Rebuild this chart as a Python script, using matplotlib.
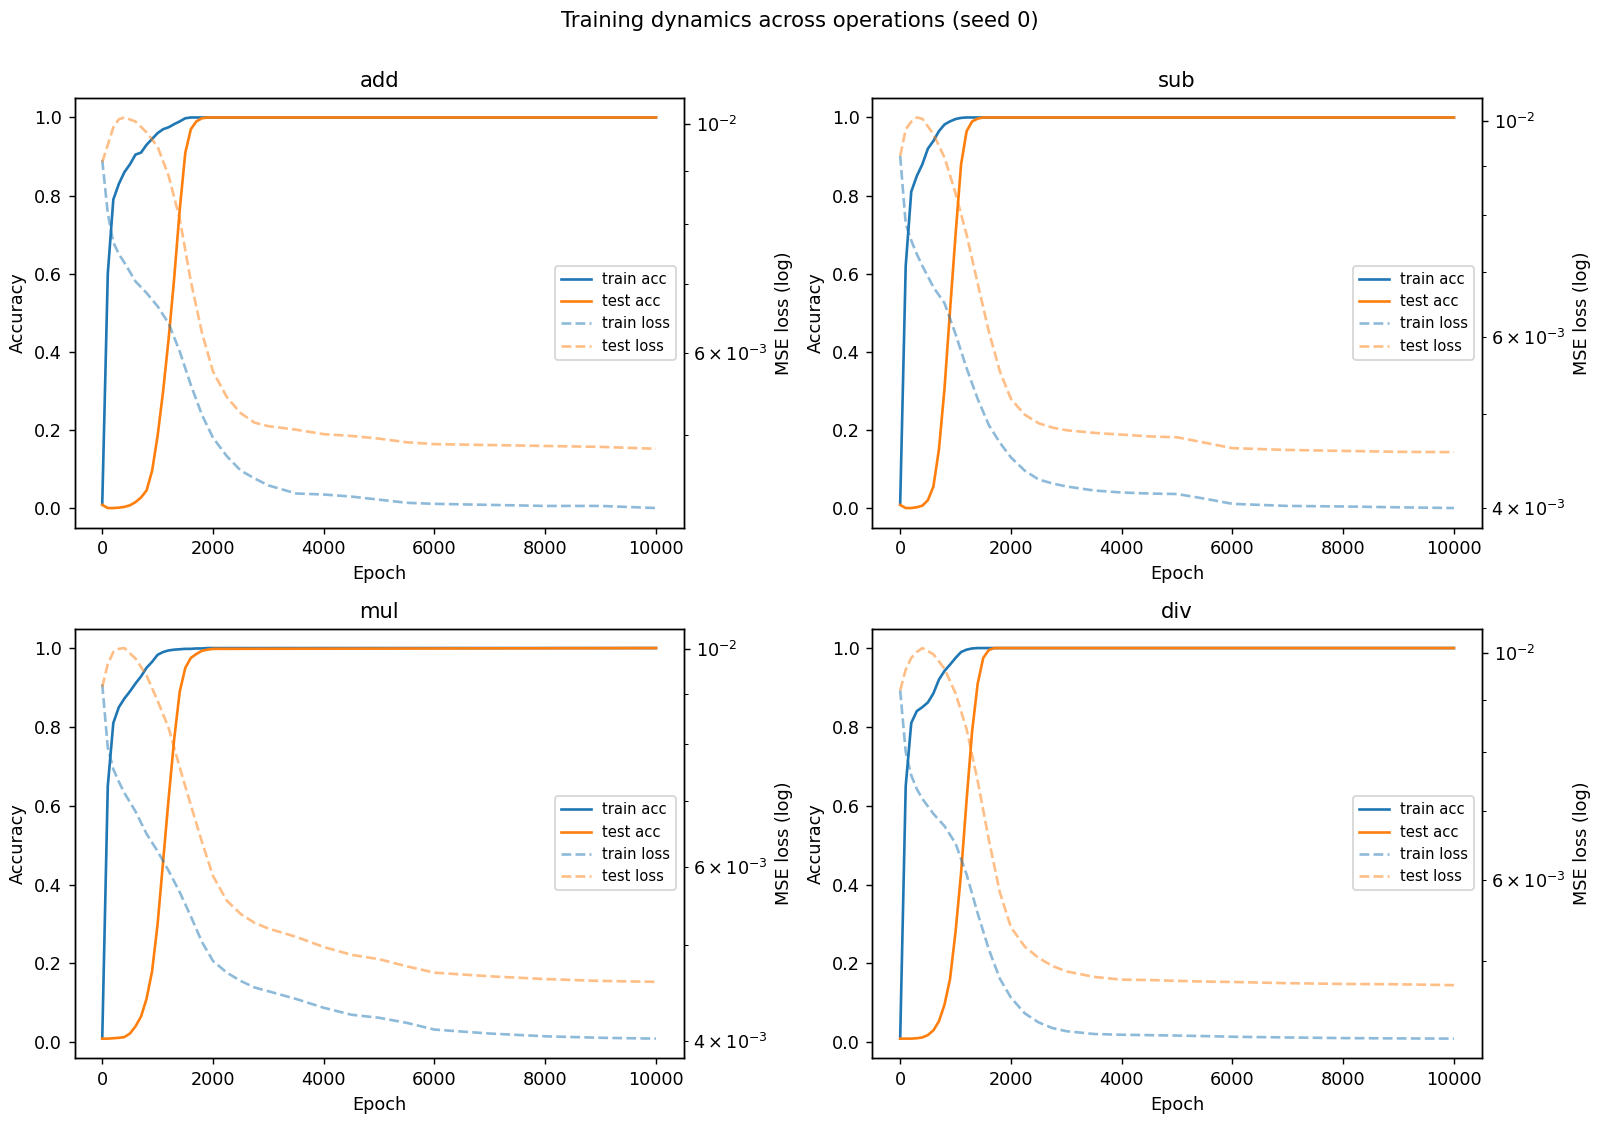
import matplotlib
matplotlib.use("Agg")
import matplotlib.pyplot as plt

ops = ["add", "sub", "mul", "div"]

acc_epochs = [0, 100, 200, 300, 400, 500, 600, 700, 800, 900, 1000, 1100, 1200,
              1300, 1400, 1500, 1600, 1700, 1800, 1900, 2000, 10000]
loss_epochs = [0, 100, 200, 300, 400, 600, 800, 1000, 1200, 1400, 1600, 1800, 2000,
               2250, 2500, 2750, 3000, 3500, 4000, 4500, 5000, 5500, 6000, 7000,
               8000, 9000, 10000]

add_train_acc = [0.01, 0.60, 0.79, 0.83, 0.86, 0.88, 0.905, 0.91, 0.93, 0.945, 0.96,
                 0.97, 0.975, 0.983, 0.99, 0.998, 1.0, 1.0, 1.0, 1.0, 1.0, 1.0]
add_test_acc = [0.008, 0.0, 0.0, 0.001, 0.003, 0.007, 0.015, 0.027, 0.045, 0.095, 0.185,
                0.30, 0.435, 0.59, 0.765, 0.91, 0.97, 0.99, 0.998, 1.0, 1.0, 1.0]
add_train_loss = [0.00922, 0.00819, 0.00768, 0.00748, 0.00734, 0.00704, 0.00686, 0.00666,
                  0.00641, 0.00602, 0.00559, 0.00523, 0.00497, 0.00477, 0.00462, 0.00454,
                  0.00447, 0.00439, 0.00438, 0.00436, 0.00433, 0.00430, 0.00429, 0.00428,
                  0.00427, 0.00427, 0.00425]
add_test_loss = [0.00918, 0.00954, 0.00992, 0.01010, 0.01014, 0.01005, 0.00981, 0.00950,
                 0.00890, 0.00809, 0.00704, 0.00628, 0.00576, 0.00544, 0.00525, 0.00514,
                 0.00510, 0.00506, 0.00501, 0.00499, 0.00496, 0.00492, 0.00490, 0.00489,
                 0.00488, 0.00487, 0.00485]

sub_train_acc = [0.01, 0.62, 0.81, 0.85, 0.88, 0.92, 0.94, 0.965, 0.982, 0.99, 0.996,
                 0.999, 1.0, 1.0, 1.0, 1.0, 1.0, 1.0, 1.0, 1.0, 1.0, 1.0]
sub_test_acc = [0.008, 0.0, 0.0, 0.002, 0.006, 0.02, 0.055, 0.15, 0.305, 0.505, 0.70,
                0.88, 0.965, 0.99, 0.997, 1.0, 1.0, 1.0, 1.0, 1.0, 1.0, 1.0]
sub_train_loss = [0.00921, 0.00784, 0.00754, 0.00730, 0.00710, 0.00675, 0.00650, 0.00604,
                  0.00557, 0.00518, 0.00487, 0.00467, 0.00451, 0.00437, 0.00428, 0.00424,
                  0.00421, 0.00417, 0.00415, 0.00414, 0.004135, 0.00409, 0.00404, 0.00402,
                  0.004015, 0.004007, 0.00400]
sub_test_loss = [0.00921, 0.00981, 0.00999, 0.01009, 0.01006, 0.00970, 0.00918, 0.00843,
                 0.00764, 0.00681, 0.00608, 0.00553, 0.00518, 0.00499, 0.00489, 0.00484,
                 0.00481, 0.00478, 0.00476, 0.00474, 0.00473, 0.00467, 0.00461, 0.00459,
                 0.00458, 0.00457, 0.004566]

mul_train_acc = [0.009, 0.65, 0.81, 0.85, 0.872, 0.89, 0.91, 0.928, 0.95, 0.965, 0.983,
                 0.99, 0.994, 0.996, 0.997, 0.998, 0.998, 0.999, 0.999, 1.0, 1.0, 1.0]
mul_test_acc = [0.009, 0.009, 0.01, 0.011, 0.013, 0.022, 0.04, 0.065, 0.11, 0.18, 0.30,
                0.46, 0.62, 0.77, 0.89, 0.95, 0.975, 0.985, 0.993, 0.996, 0.998, 1.0]
mul_train_loss = [0.00921, 0.00794, 0.00755, 0.00733, 0.00714, 0.00684, 0.00649, 0.00623,
                  0.00595, 0.00566, 0.00535, 0.00504, 0.00482, 0.00469, 0.00460, 0.00453,
                  0.00449, 0.00441, 0.00432, 0.00425, 0.00422, 0.00417, 0.004105, 0.004067,
                  0.004041, 0.004027, 0.004019]
mul_test_loss = [0.00915, 0.00966, 0.00993, 0.010005, 0.010023, 0.00978, 0.00940, 0.00886,
                 0.00831, 0.00758, 0.00694, 0.00637, 0.00588, 0.00555, 0.00538, 0.00527,
                 0.00520, 0.00510, 0.00498, 0.00489, 0.00484, 0.00476, 0.00469, 0.00465,
                 0.00462, 0.00460, 0.00459]

div_train_acc = [0.009, 0.65, 0.81, 0.84, 0.85, 0.862, 0.885, 0.92, 0.942, 0.958, 0.975,
                 0.99, 0.996, 0.999, 1.0, 1.0, 1.0, 1.0, 1.0, 1.0, 1.0, 1.0]
div_test_acc = [0.009, 0.009, 0.009, 0.01, 0.012, 0.018, 0.03, 0.053, 0.095, 0.16, 0.28,
                0.43, 0.615, 0.79, 0.91, 0.975, 0.995, 1.0, 1.0, 1.0, 1.0, 1.0]
div_train_loss = [0.00919, 0.00800, 0.00759, 0.00736, 0.00720, 0.00696, 0.00677, 0.00651,
                  0.00607, 0.00556, 0.00513, 0.00480, 0.00460, 0.00444, 0.00435, 0.004295,
                  0.004265, 0.004238, 0.004231, 0.004227, 0.004223, 0.004218, 0.004212,
                  0.004205, 0.004199, 0.004196, 0.004194]
div_test_loss = [0.00919, 0.00963, 0.00989, 0.01002, 0.01011, 0.00997, 0.00965, 0.00913,
                 0.00842, 0.00749, 0.00657, 0.00583, 0.00539, 0.00516, 0.00503, 0.00494,
                 0.00488, 0.00482, 0.00479, 0.004786, 0.004777, 0.004769, 0.004765, 0.004752,
                 0.004744, 0.00474, 0.004731]

curves = {
    "add": (add_train_acc, add_test_acc, add_train_loss, add_test_loss),
    "sub": (sub_train_acc, sub_test_acc, sub_train_loss, sub_test_loss),
    "mul": (mul_train_acc, mul_test_acc, mul_train_loss, mul_test_loss),
    "div": (div_train_acc, div_test_acc, div_train_loss, div_test_loss),
}

DPI = 127
fig, axes = plt.subplots(2, 2, figsize=(1600 / DPI, 1122 / DPI), dpi=DPI)
fig.subplots_adjust(left=0.0466, right=0.926, top=0.9127, bottom=0.0569,
                    wspace=0.31, hspace=0.235)

for ax, op in zip(axes.flat, ops):
    tr_acc, te_acc, tr_loss, te_loss = curves[op]
    l1, = ax.plot(acc_epochs, tr_acc, color="C0", label="train acc")
    l2, = ax.plot(acc_epochs, te_acc, color="C1", label="test acc")
    ax.set_xlabel("Epoch")
    ax.set_ylabel("Accuracy")
    ax.set_title(op)

    ax2 = ax.twinx()
    l3, = ax2.plot(loss_epochs, tr_loss, "--", color="C0", alpha=0.5, label="train loss")
    l4, = ax2.plot(loss_epochs, te_loss, "--", color="C1", alpha=0.5, label="test loss")
    ax2.set_yscale("log")
    ax2.set_ylabel("MSE loss (log)")

    lines = [l1, l2, l3, l4]
    ax2.legend(lines, [l.get_label() for l in lines], loc="center right", fontsize="small")

fig.suptitle("Training dynamics across operations (seed 0)", y=0.99, va="top")
fig.savefig("out.png", dpi=DPI)
